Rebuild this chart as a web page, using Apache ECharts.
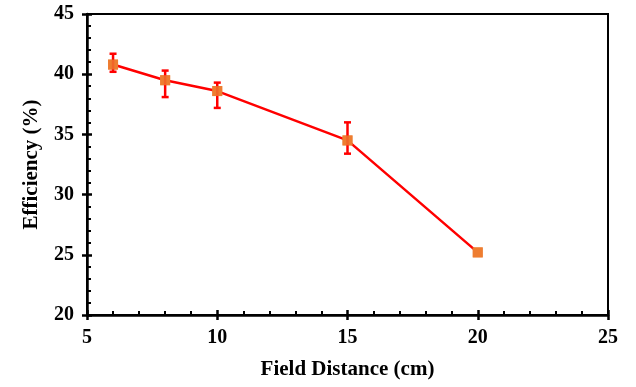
<!DOCTYPE html>
<html>
<head>
<meta charset="utf-8">
<script src="https://cdn.jsdelivr.net/npm/echarts@6/dist/echarts.min.js"></script>
<style>
  html, body { margin: 0; padding: 0; background: #fff; }
  #chart { width: 636px; height: 387px; }
</style>
</head>
<body>
<div id="chart"></div>
<script>
var distance = [6, 8, 10, 15, 20];
var efficiency = [40.8, 39.5, 38.6, 34.5, 25.2];
var errLow = [40.2, 38.1, 37.2, 33.4, null];
var errHigh = [41.7, 40.3, 39.3, 36.0, null];

var chart = echarts.init(document.getElementById('chart'));
var font = 'Liberation Serif';

var points = distance.map(function(d, i) { return [d, efficiency[i]]; });
var bars = [];
distance.forEach(function(d, i) {
  if (errLow[i] != null) bars.push([d, errLow[i], errHigh[i]]);
});

function baseX(extra) {
  return Object.assign({
    type: 'value', min: 5, max: 25, interval: 5,
    position: 'bottom',
    splitLine: { show: false }
  }, extra);
}
function baseY(extra) {
  return Object.assign({
    type: 'value', min: 20, max: 45, interval: 5,
    position: 'left',
    splitLine: { show: false }
  }, extra);
}

var option = {
  animation: false,
  grid: {
    left: 87, top: 14, right: 28, bottom: 72,
    show: true, borderColor: '#000', borderWidth: 2
  },
  xAxis: [
    baseX({
      axisLine: { lineStyle: { color: '#000', width: 2.5 } },
      axisTick: { inside: false, length: 5, lineStyle: { color: '#000', width: 2.5 } },
      axisLabel: { color: '#000', fontFamily: font, fontWeight: 'bold', fontSize: 20, margin: 13 },
      name: 'Field Distance (cm)',
      nameLocation: 'middle',
      nameGap: 44,
      nameTextStyle: { color: '#000', fontFamily: font, fontWeight: 'bold', fontSize: 21 }
    }),
    baseX({
      axisLine: { show: false },
      axisTick: { inside: true, length: 5, lineStyle: { color: '#000', width: 2.5 } },
      minorTick: { show: true, splitNumber: 5, length: 4, lineStyle: { color: '#000', width: 2 } },
      axisLabel: { show: false }
    })
  ],
  yAxis: [
    baseY({
      axisLine: { lineStyle: { color: '#000', width: 2.5 } },
      axisTick: { inside: false, length: 5, lineStyle: { color: '#000', width: 2.5 } },
      axisLabel: { color: '#000', fontFamily: font, fontWeight: 'bold', fontSize: 20, margin: 13 },
      name: 'Efficiency (%)',
      nameLocation: 'middle',
      nameGap: 45,
      nameTextStyle: { color: '#000', fontFamily: font, fontWeight: 'bold', fontSize: 21 }
    }),
    baseY({
      axisLine: { show: false },
      axisTick: { inside: true, length: 5, lineStyle: { color: '#000', width: 2.5 } },
      minorTick: { show: true, splitNumber: 5, length: 4, lineStyle: { color: '#000', width: 2 } },
      axisLabel: { show: false }
    })
  ],
  series: [{
    type: 'line',
    data: points,
    lineStyle: { color: '#ff0000', width: 2.5 },
    symbol: 'rect',
    symbolSize: 10,
    itemStyle: { color: '#ed7d31' },
    z: 3
  }, {
    type: 'custom',
    data: bars,
    z: 4,
    renderItem: function(params, api) {
      var x = api.value(0);
      var lo = api.coord([x, api.value(1)]);
      var hi = api.coord([x, api.value(2)]);
      var w = 3.5;
      var style = { stroke: '#ff0000', lineWidth: 2.5 };
      return {
        type: 'group',
        children: [
          { type: 'line', shape: { x1: hi[0], y1: hi[1], x2: lo[0], y2: lo[1] }, style: style },
          { type: 'line', shape: { x1: hi[0] - w, y1: hi[1], x2: hi[0] + w, y2: hi[1] }, style: style },
          { type: 'line', shape: { x1: lo[0] - w, y1: lo[1], x2: lo[0] + w, y2: lo[1] }, style: style }
        ]
      };
    }
  }, {
    type: 'scatter',
    data: points,
    symbol: 'rect',
    symbolSize: 10,
    itemStyle: { color: '#ed7d31' },
    z: 5
  }]
};
chart.setOption(option);
</script>
</body>
</html>
